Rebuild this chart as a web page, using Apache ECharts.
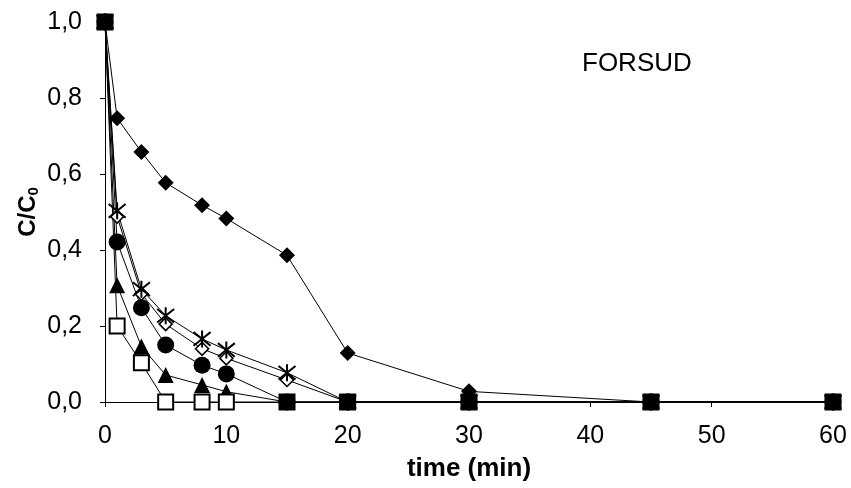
<!DOCTYPE html>
<html>
<head>
<meta charset="utf-8">
<script src="https://cdn.jsdelivr.net/npm/echarts@6/dist/echarts.min.js"></script>
<style>html,body{margin:0;padding:0;background:#fff}#c{width:851px;height:488px}</style>
</head>
<body>
<div id="c"></div>
<script>
const times = [0, 1, 3, 5, 8, 10, 15, 20, 30, 45, 60];
const diamondVals = [1, 0.747, 0.658, 0.577, 0.518, 0.483, 0.386, 0.129, 0.028, 0, 0];
const starVals = [1, 0.503, 0.297, 0.227, 0.166, 0.137, 0.077, 0, 0, 0, 0];
const openDiamondVals = [1, 0.488, 0.285, 0.205, 0.140, 0.115, 0.058, 0, 0, 0, 0];
const circleVals = [1, 0.421, 0.248, 0.150, 0.097, 0.074, 0, 0, 0, 0, 0];
const triangleVals = [1, 0.307, 0.146, 0.071, 0.045, 0.027, 0, 0, 0, 0, 0];
const openSquareVals = [1, 0.200, 0.103, 0, 0, 0, 0, 0, 0, 0, 0];
const filledSquareTimes = [0, 15, 20, 30, 45, 60];
const filledSquareVals = [1, 0, 0, 0, 0, 0];
const xTicks = [0, 10, 20, 30, 40, 50, 60];
const yTicks = [0, 0.2, 0.4, 0.6, 0.8, 1.0];

const pair = (xs, ys) => xs.map((x, i) => [x, ys[i]]);
const FONT = 'Liberation Sans, Arial, sans-serif';
const starPath = 'path://M1,1L9,9M9,1L1,9M5,0L5,10';

function lineSeries(vals, symbol, size, item) {
  return {
    type: 'line', data: pair(times, vals), symbol: symbol, symbolSize: size,
    lineStyle: { color: '#000', width: 1 },
    itemStyle: Object.assign({ color: '#000', borderColor: '#000', borderWidth: 0, opacity: 1 }, item || {}),
    emphasis: { disabled: true }, clip: false
  };
}

const chart = echarts.init(document.getElementById('c'), null, { renderer: 'canvas' });
chart.setOption({
  animation: false,
  backgroundColor: '#fff',
  textStyle: { fontFamily: FONT },
  grid: { left: 105, right: 18, top: 22, bottom: 86, containLabel: false },
  title: {
    text: 'FORSUD', left: 577, top: 46,
    textStyle: { fontFamily: FONT, fontSize: 26, fontWeight: 'normal', color: '#000' }
  },
  xAxis: {
    type: 'value', min: 0, max: 60, interval: 10,
    name: 'time (min)', nameLocation: 'middle', nameGap: 54, nameMoveOverlap: false,
    nameTextStyle: { fontFamily: FONT, fontSize: 26, fontWeight: 'bold', color: '#000' },
    axisLine: { show: true, lineStyle: { color: '#000', width: 1 } },
    axisTick: { show: true, length: 5, lineStyle: { color: '#000' } },
    axisLabel: { fontFamily: FONT, fontSize: 25, color: '#000', margin: 22,
      formatter: v => xTicks.includes(v) ? String(v) : '' },
    splitLine: { show: false }
  },
  yAxis: {
    type: 'value', min: 0, max: 1, interval: 0.2,
    name: '{a|C/C}{b|0}', nameLocation: 'middle', nameGap: 64, nameRotate: 90, nameMoveOverlap: false,
    nameTextStyle: {
      color: '#000',
      rich: {
        a: { fontFamily: FONT, fontSize: 24, fontWeight: 'bold', color: '#000' },
        b: { fontFamily: FONT, fontSize: 15, fontWeight: 'bold', color: '#000', padding: [11, 0, 0, 0] }
      }
    },
    axisLine: { show: true, lineStyle: { color: '#000', width: 1 } },
    axisTick: { show: true, length: 5, lineStyle: { color: '#000' } },
    axisLabel: { fontFamily: FONT, fontSize: 25, color: '#000', margin: 23,
      formatter: v => {
        const t = yTicks.find(k => Math.abs(k - v) < 1e-9);
        return t === undefined ? '' : t.toFixed(1).replace('.', ',');
      } },
    splitLine: { show: false }
  },
  series: [
    lineSeries(diamondVals, 'diamond', 16),
    lineSeries(openDiamondVals, 'diamond', 13, { color: '#fff', borderColor: '#000', borderWidth: 1.6 }),
    lineSeries(starVals, starPath, 17, { color: 'none', borderColor: '#000', borderWidth: 2 }),
    lineSeries(circleVals, 'circle', 17),
    lineSeries(triangleVals, 'triangle', 16),
    lineSeries(openSquareVals, 'rect', 15, { color: '#fff', borderColor: '#000', borderWidth: 2 }),
    {
      type: 'scatter', data: pair(filledSquareTimes, filledSquareVals), symbol: 'rect', symbolSize: 16,
      itemStyle: { color: '#000', opacity: 1 }, emphasis: { disabled: true }, clip: false, z: 5
    }
  ]
});
</script>
</body>
</html>
